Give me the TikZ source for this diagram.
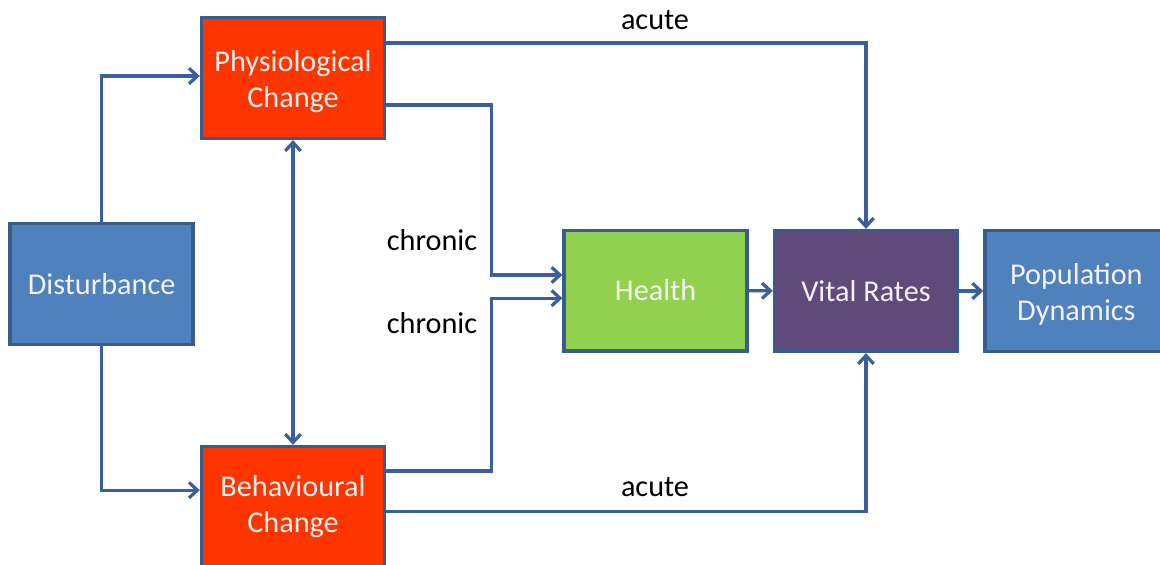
\documentclass[tikz,border=0pt]{standalone}
\usepackage{fontspec}
\setmainfont{Carlito}
\usetikzlibrary{arrows.meta}
\definecolor{boxblue}{HTML}{4F81BD}
\definecolor{edgeblue}{HTML}{385D8A}
\definecolor{linkblue}{HTML}{3A5F9B}
\definecolor{physred}{HTML}{FF3500}
\definecolor{healthgreen}{HTML}{92D050}
\definecolor{vitalpurple}{HTML}{604A7B}
\tikzset{
  box/.style={draw=edgeblue, line width=2.4pt, minimum width=4.575cm, minimum height=3.02cm,
    align=center, text=white!95!black, font=\fontsize{21.5}{25.6}\selectfont},
  link/.style={draw=linkblue, line width=2.3pt, -{Straight Barb[length=6pt,width=11pt]}},
  tag/.style={font=\fontsize{21.5}{25.6}\selectfont}
}
\newcommand{\lowerline}{\rule{0pt}{20pt}}
\begin{document}
\begin{tikzpicture}
    \useasboundingbox (0,0) rectangle (29,14.125);
    % Boxes
    \node[box, fill=boxblue] (dist) at (2.54,7.025) {Disturbance};
    \node[box, fill=physred] (phys) at (7.325,12.175) {\lowerline Physiological\\Change};
    \node[box, fill=physred] (beh) at (7.325,1.45) {Behavioural\\Change};
    \node[box, fill=healthgreen] (health) at (16.39,6.86) {Health};
    \node[box, fill=vitalpurple] (vital) at (21.65,6.85) {Vital Rates};
    \node[box, fill=boxblue] (pop) at (26.91,6.85) {\lowerline Population\\Dynamics};
    % Disturbance to the two responses
    \draw[link] (dist.north) |- ([yshift=0.05cm]phys.west);
    \draw[link] (dist.south) |- ([yshift=0.42cm]beh.west);
    \draw[link, {Straight Barb[length=6pt,width=11pt]}-{Straight Barb[length=6pt,width=11pt]}] (phys.south) -- (beh.north);
    % Acute paths
    \draw[link] ([yshift=0.875cm]phys.east) -| (vital.north);
    \draw[link] ([yshift=-0.12cm]beh.east) -| (vital.south);
    % Chronic paths
    \draw[link] ([yshift=-0.675cm]phys.east) -| ([xshift=-1.775cm,yshift=0.39cm]health.west) -- ([yshift=0.39cm]health.west);
    \draw[link] ([yshift=0.9cm]beh.east) -| ([xshift=-1.775cm,yshift=-0.19cm]health.west) -- ([yshift=-0.19cm]health.west);
    % Main chain
    \draw[link] (health) -- (vital);
    \draw[link] (vital) -- (pop);
    % Labels
    \node[tag] (acutetop) at (16.375,13.625) {acute};
    \node[tag] (acutebot) at (16.375,1.95) {acute};
    \node[tag] (chronictop) at (10.8,8.125) {chronic};
    \node[tag] (chronicbot) at (10.8,6.05) {chronic};
\end{tikzpicture}
\end{document}
